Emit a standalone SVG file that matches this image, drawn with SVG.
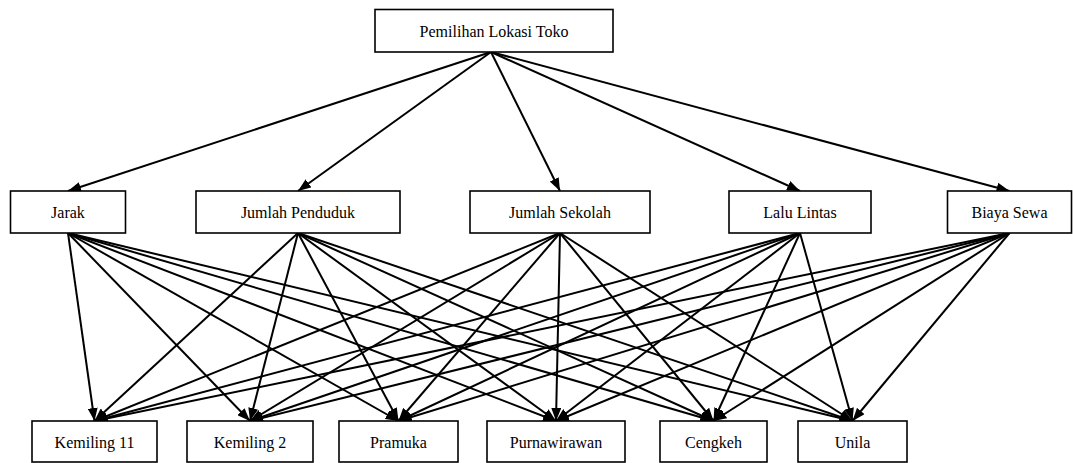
<svg xmlns="http://www.w3.org/2000/svg" width="1073" height="463" viewBox="0 0 1073 463">
<defs>
<marker id="ah" markerUnits="userSpaceOnUse" markerWidth="14" markerHeight="10" refX="13" refY="5" orient="auto">
<path d="M0,0 L13,5 L0,10 z" fill="#000"/>
</marker>
<style>
.box{fill:#fff;stroke:#000;stroke-width:1.6}
.lbl{font-family:"Liberation Serif","Times New Roman",serif;font-size:16px;fill:#000;text-anchor:middle;dominant-baseline:central}
.e{stroke:#000;stroke-width:2;fill:none;marker-end:url(#ah)}
</style>
</defs>
<rect width="1073" height="463" fill="#fff"/>
<g id="connectors">
<line class="e" x1="491" y1="52" x2="68" y2="191"/>
<line class="e" x1="491" y1="52" x2="298" y2="191"/>
<line class="e" x1="491" y1="52" x2="560" y2="191"/>
<line class="e" x1="491" y1="52" x2="800" y2="191"/>
<line class="e" x1="491" y1="52" x2="1009.5" y2="191"/>
<line class="e" x1="68" y1="233" x2="94.5" y2="421"/>
<line class="e" x1="68" y1="233" x2="250" y2="421"/>
<line class="e" x1="68" y1="233" x2="398.5" y2="421"/>
<line class="e" x1="68" y1="233" x2="556" y2="421"/>
<line class="e" x1="68" y1="233" x2="713.5" y2="421"/>
<line class="e" x1="68" y1="233" x2="852.5" y2="421"/>
<line class="e" x1="298" y1="233" x2="94.5" y2="421"/>
<line class="e" x1="298" y1="233" x2="250" y2="421"/>
<line class="e" x1="298" y1="233" x2="398.5" y2="421"/>
<line class="e" x1="298" y1="233" x2="556" y2="421"/>
<line class="e" x1="298" y1="233" x2="713.5" y2="421"/>
<line class="e" x1="298" y1="233" x2="852.5" y2="421"/>
<line class="e" x1="560" y1="233" x2="94.5" y2="421"/>
<line class="e" x1="560" y1="233" x2="250" y2="421"/>
<line class="e" x1="560" y1="233" x2="398.5" y2="421"/>
<line class="e" x1="560" y1="233" x2="556" y2="421"/>
<line class="e" x1="560" y1="233" x2="713.5" y2="421"/>
<line class="e" x1="560" y1="233" x2="852.5" y2="421"/>
<line class="e" x1="800" y1="233" x2="94.5" y2="421"/>
<line class="e" x1="800" y1="233" x2="250" y2="421"/>
<line class="e" x1="800" y1="233" x2="398.5" y2="421"/>
<line class="e" x1="800" y1="233" x2="556" y2="421"/>
<line class="e" x1="800" y1="233" x2="713.5" y2="421"/>
<line class="e" x1="800" y1="233" x2="852.5" y2="421"/>
<line class="e" x1="1009.5" y1="233" x2="94.5" y2="421"/>
<line class="e" x1="1009.5" y1="233" x2="250" y2="421"/>
<line class="e" x1="1009.5" y1="233" x2="398.5" y2="421"/>
<line class="e" x1="1009.5" y1="233" x2="556" y2="421"/>
<line class="e" x1="1009.5" y1="233" x2="713.5" y2="421"/>
<line class="e" x1="1009.5" y1="233" x2="852.5" y2="421"/>
</g>
<g id="n-root"><rect class="box" x="375" y="9.5" width="238" height="42.5"/><text class="lbl" x="494" y="31">Pemilihan Lokasi Toko</text></g>
<g id="n-jarak"><rect class="box" x="10.5" y="191" width="115" height="42"/><text class="lbl" x="68" y="212">Jarak</text></g>
<g id="n-penduduk"><rect class="box" x="196" y="191" width="204" height="42"/><text class="lbl" x="298" y="212">Jumlah Penduduk</text></g>
<g id="n-sekolah"><rect class="box" x="470" y="191" width="180" height="42"/><text class="lbl" x="560" y="212">Jumlah Sekolah</text></g>
<g id="n-lalulintas"><rect class="box" x="729" y="191" width="142" height="42"/><text class="lbl" x="800" y="212">Lalu Lintas</text></g>
<g id="n-biayasewa"><rect class="box" x="947.5" y="191" width="124" height="42"/><text class="lbl" x="1009.5" y="212">Biaya Sewa</text></g>
<g id="n-kemiling11"><rect class="box" x="32" y="421" width="125" height="41"/><text class="lbl" x="94.5" y="442">Kemiling 11</text></g>
<g id="n-kemiling2"><rect class="box" x="187" y="421" width="126" height="41"/><text class="lbl" x="250" y="442">Kemiling 2</text></g>
<g id="n-pramuka"><rect class="box" x="339" y="421" width="119" height="41"/><text class="lbl" x="398.5" y="442">Pramuka</text></g>
<g id="n-purnawirawan"><rect class="box" x="487" y="421" width="138" height="41"/><text class="lbl" x="556" y="442">Purnawirawan</text></g>
<g id="n-cengkeh"><rect class="box" x="660" y="421" width="107" height="41"/><text class="lbl" x="713.5" y="442">Cengkeh</text></g>
<g id="n-unila"><rect class="box" x="798" y="421" width="109" height="41"/><text class="lbl" x="852.5" y="442">Unila</text></g>
</svg>
